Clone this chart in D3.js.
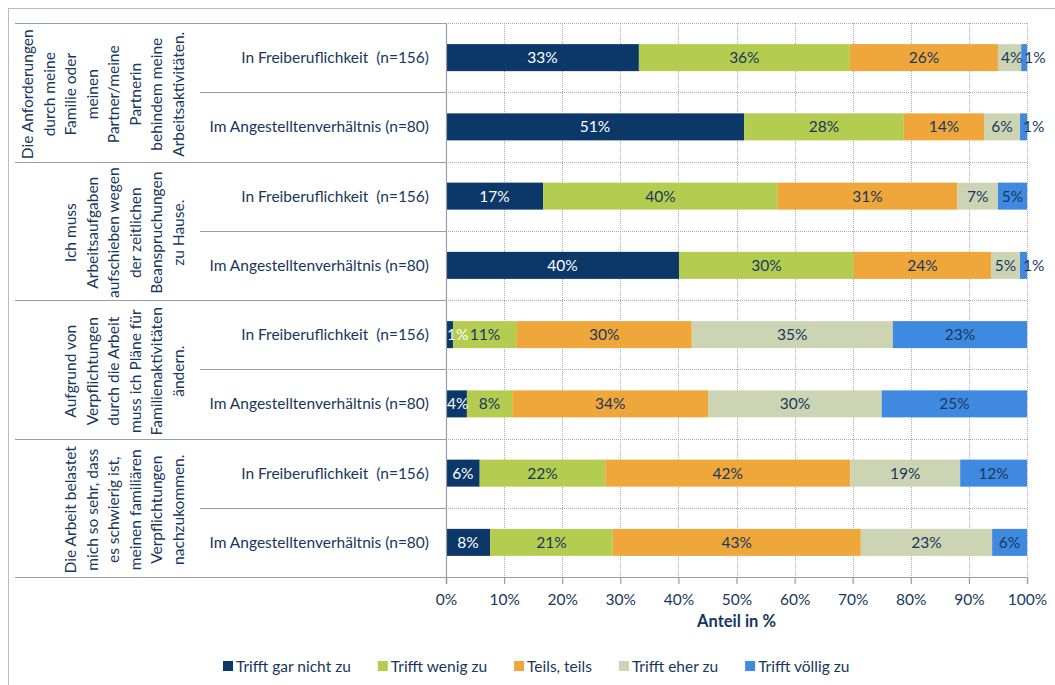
<!DOCTYPE html>
<html><head><meta charset="utf-8">
<script src="https://cdn.jsdelivr.net/npm/d3@7"></script>
<style>
html,body{margin:0;padding:0;background:#fff;}
svg{display:block;font-family:Lato,"Open Sans",sans-serif;}
</style></head>
<body>
<svg id="chart" width="1055" height="685"></svg>
<script>
const rowLabels = [
  "In Freiberuflichkeit  (n=156)", "Im Angestelltenverhältnis (n=80)",
  "In Freiberuflichkeit  (n=156)", "Im Angestelltenverhältnis (n=80)",
  "In Freiberuflichkeit  (n=156)", "Im Angestelltenverhältnis (n=80)",
  "In Freiberuflichkeit  (n=156)", "Im Angestelltenverhältnis (n=80)"
];
const groupLabels = [
  ["Die Anforderungen", "durch meine", "Familie oder", "meinen", "Partner/meine", "Partnerin", "behindem meine", "Arbeitsaktivitäten."],
  ["Ich muss", "Arbeitsaufgaben", "aufschieben wegen", "der zeitlichen", "Beanspruchungen", "zu Hause."],
  ["Aufgrund von", "Verpflichtungen", "durch die Arbeit", "muss ich Pläne für", "Familienaktivitäten", "ändern."],
  ["Die Arbeit belastet", "mich so sehr, dass", "es schwierig ist,", "meinen familiären", "Verpflichtungen", "nachzukommen."]
];
const seriesNames = ["Trifft gar nicht zu", "Trifft wenig zu", "Teils, teils", "Trifft eher zu", "Trifft völlig zu"];
const garNicht = [33.2, 51.3, 16.7, 40.1, 1.2, 3.6, 5.8, 7.6];
const wenig    = [36.3, 27.5, 40.4, 30.1, 11.0, 7.8, 21.6, 21.1];
const teils    = [25.5, 13.8, 30.9, 23.6, 30.1, 33.7, 42.2, 42.7];
const eher     = [4.0, 6.2, 7.0, 5.0, 34.6, 29.9, 18.9, 22.6];
const voellig  = [1.0, 1.2, 5.0, 1.2, 23.1, 25.0, 11.5, 6.0];
const xTicks = [0, 10, 20, 30, 40, 50, 60, 70, 80, 90, 100];
const axisTitle = "Anteil in %";

const colors = ["#0B3868", "#B4CC50", "#EFA73C", "#CCD4B3", "#3F8AE0"];
const textColor = "#17375E";
const lineColor = "#9A9CA8";

const seriesValues = [garNicht, wenig, teils, eher, voellig];
const table = rowLabels.map((r, i) => {
  const o = {idx: i};
  seriesNames.forEach((s, j) => o[s] = seriesValues[j][i]);
  return o;
});

const svg = d3.select("#chart");
const M = {left: 446, right: 1027, top: 23, bottom: 577};

const x = d3.scaleLinear().domain([0, 100]).range([M.left, M.right]);
const y = d3.scaleBand().domain(d3.range(rowLabels.length)).range([M.top, M.bottom])
  .paddingInner(0.61).paddingOuter(0.305);
const step = y.step();

// outer frame
svg.append("line").attr("x1", 8.5).attr("x2", 8.5).attr("y1", 8).attr("y2", 685).attr("stroke", "#B8BBC6").attr("stroke-width", 1);
svg.append("line").attr("x1", 8).attr("x2", 1055).attr("y1", 8.5).attr("y2", 8.5).attr("stroke", "#B8BBC6").attr("stroke-width", 1);

// gridlines vertical
svg.append("g").selectAll("line").data(xTicks.slice(1)).join("line")
  .attr("x1", d => Math.round(x(d)) + 0.5).attr("x2", d => Math.round(x(d)) + 0.5)
  .attr("y1", M.top).attr("y2", M.bottom)
  .attr("stroke", "#A9ABB8").attr("stroke-dasharray", "1,1");
// gridlines horizontal at row boundaries
const boundaries = d3.range(rowLabels.length).map(i => M.top + i * step);
svg.append("g").selectAll("line").data(boundaries).join("line")
  .attr("x1", M.left).attr("x2", M.right)
  .attr("y1", d => Math.round(d) + 0.5).attr("y2", d => Math.round(d) + 0.5)
  .attr("stroke", "#A9ABB8").attr("stroke-dasharray", "1,1");

// category separators in label area
const allB = d3.range(rowLabels.length + 1).map(i => M.top + i * step);
svg.append("g").selectAll("line").data(allB).join("line")
  .attr("x1", (d, i) => i % 2 === 0 ? 15 : 200).attr("x2", M.left)
  .attr("y1", d => Math.round(d) + 0.5).attr("y2", d => Math.round(d) + 0.5)
  .attr("stroke", lineColor).attr("stroke-width", 1.2);

// stacked bars
const stack = d3.stack().keys(seriesNames)(table);
const gBars = svg.append("g");
stack.forEach((layer, si) => {
  gBars.append("g").selectAll("rect").data(layer).join("rect")
    .attr("x", d => x(d[0])).attr("width", d => x(d[1]) - x(d[0]))
    .attr("y", (d, i) => y(i)).attr("height", y.bandwidth())
    .attr("fill", colors[si]);
});
// value labels
stack.forEach((layer, si) => {
  layer.forEach((d, i) => {
    const x0 = x(d[0]), x1 = x(d[1]);
    const t = gBars.append("text")
      .attr("y", y(i) + y.bandwidth() / 2).attr("dy", "0.36em")
      .attr("font-size", 15.5)
      .attr("fill", si === 0 ? "#fff" : textColor)
      .text(Math.round(d[1] - d[0]) + "%");
    const w = t.node().getComputedTextLength();
    if (w > x1 - x0 - 2) {
      t.attr("text-anchor", "start").attr("x", si === 0 ? x0 + 1 : x0 + 3);
    } else {
      t.attr("text-anchor", "middle").attr("x", (x0 + x1) / 2);
    }
  });
});

// axis line (vertical category axis)
svg.append("line").attr("x1", M.left + 0.5).attr("x2", M.left + 0.5).attr("y1", M.top).attr("y2", M.bottom + 7)
  .attr("stroke", lineColor).attr("stroke-width", 1.2);

// bottom axis
const xAxis = d3.axisBottom(x).tickValues(xTicks).tickFormat(d => d + "%").tickSize(7).tickPadding(10);
const gx = svg.append("g").attr("transform", `translate(0,${M.bottom})`).call(xAxis);
gx.select(".domain").attr("stroke", lineColor).attr("stroke-width", 1.2);
gx.selectAll(".tick line").attr("stroke", lineColor).attr("stroke-width", 1.2);
gx.selectAll(".tick text").attr("fill", textColor).attr("font-size", 15.5).attr("font-family", "Lato");

svg.append("text").attr("x", (M.left + M.right) / 2).attr("y", 627)
  .attr("text-anchor", "middle").attr("font-weight", "bold").attr("font-size", 16.5)
  .attr("fill", textColor).text(axisTitle);

// row labels
svg.append("g").selectAll("text").data(rowLabels).join("text")
  .attr("x", 429).attr("y", (d, i) => y(i) + y.bandwidth() / 2).attr("dy", "0.36em")
  .attr("text-anchor", "end").attr("font-size", 15.5).attr("fill", textColor)
  .attr("xml:space", "preserve").style("white-space", "pre")
  .text(d => d);

// group labels (rotated)
groupLabels.forEach((lines, gi) => {
  const cy = M.top + (gi * 2 + 1) * step + 2;
  const lastX = 178, lh = 21.5;
  lines.forEach((ln, li) => {
    const cx = lastX - (lines.length - 1 - li) * lh;
    svg.append("text")
      .attr("transform", `translate(${cx},${cy}) rotate(-90)`)
      .attr("text-anchor", "middle").attr("dy", "0.36em")
      .attr("font-size", 15.5).attr("fill", textColor)
      .text(ln);
  });
});

// legend
const legend = svg.append("g").attr("transform", "translate(0,666)");
let lx = 223;
seriesNames.forEach((s, i) => {
  legend.append("rect").attr("x", lx).attr("y", -5).attr("width", 10).attr("height", 10).attr("fill", colors[i]);
  const t = legend.append("text").attr("x", lx + 13).attr("y", 0).attr("dy", "0.36em")
    .attr("font-size", 15.5).attr("fill", textColor).text(s);
  lx += 13 + t.node().getComputedTextLength() + 27;
});
</script>
</body></html>
